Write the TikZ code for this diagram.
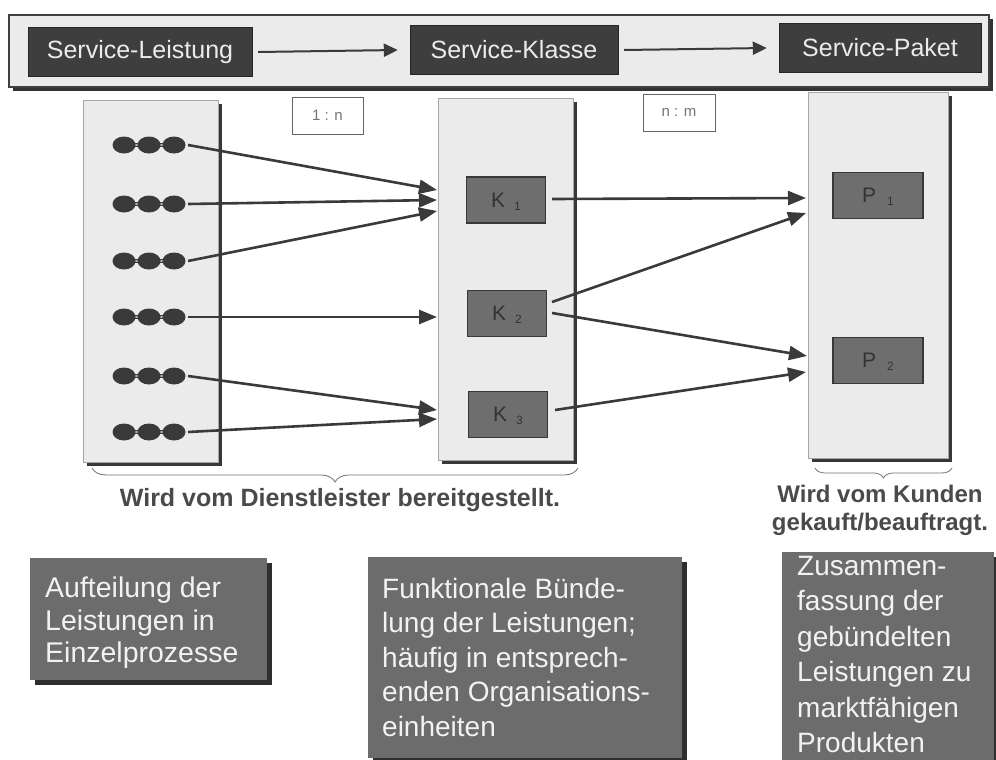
\documentclass[tikz,border=0pt]{standalone}
\usepackage{fontspec}
\setmainfont{Liberation Sans}
\usetikzlibrary{arrows.meta,shadows,decorations.pathreplacing}
\definecolor{dk}{HTML}{3A3A3A}
\definecolor{topfill}{HTML}{3E3E3E}
\definecolor{panelfill}{HTML}{EBEBEB}
\definecolor{descfill}{HTML}{6C6C6C}
\definecolor{kfill}{HTML}{6E6E6E}
\definecolor{captc}{HTML}{4A4A4A}
\newcommand{\subl}[1]{\smash{\raisebox{-3pt}{\fontsize{12}{12}\selectfont #1}}}
\begin{document}
\begin{tikzpicture}[x=1pt,y=-1pt,
  banner/.style={fill=panelfill, draw=black!75, line width=1.6pt,
    drop shadow={shadow xshift=4pt, shadow yshift=-4pt, fill=black!80, opacity=1}},
  topbox/.style={fill=topfill, draw=black!85, text=white!92!black, minimum height=49pt,
    inner sep=0pt, font=\fontsize{25}{28}\selectfont},
  panel/.style={fill=panelfill, draw=black!35, line width=0.8pt, anchor=north west,
    drop shadow={shadow xshift=4pt, shadow yshift=-4pt, fill=black!78, opacity=1}},
  ratio/.style={draw=black!60, fill=white, line width=0.8pt, minimum height=37pt,
    inner sep=0pt, font=\fontsize{15}{15}\selectfont, text=black!55},
  kbox/.style={fill=kfill, draw=black!78, line width=1.4pt, minimum width=79pt,
    minimum height=46pt, inner sep=0pt, font=\fontsize{21}{21}\selectfont, text=black!80},
  dotball/.style={fill=dk},
  dotlink/.style={draw=dk, line width=1.2pt, double=black!30, double distance=1.6pt},
  conn/.style={draw=dk, line width=2.6pt, -{Triangle[length=18pt,width=14pt]}},
  topconn/.style={draw=dk, line width=2pt, -{Triangle[length=14pt,width=13pt]}},
  brc/.style={draw=black!55, line width=0.8pt, decorate},
  capt/.style={text=captc, font=\bfseries\fontsize{24}{28}\selectfont, align=center},
  descbox/.style={fill=descfill, anchor=north west, inner sep=0pt,
    drop shadow={shadow xshift=5pt, shadow yshift=-5pt, fill=black!82, opacity=1}},
  desctext/.style={text=white!95!black, anchor=north west, align=left, inner sep=0pt}
]
\useasboundingbox (0,0) rectangle (996,760);
\fill[white] (0,0) rectangle (996,760);

% top banner
\node[banner, minimum width=980pt, minimum height=72pt, anchor=north west] (bn) at (8,14) {};
\node[topbox, minimum width=224pt] (sl) at (140,52) {Service-Leistung};
\node[topbox, minimum width=208pt] (sk) at (514,50) {Service-Klasse};
\node[topbox, minimum width=202pt] (sp) at (880,48) {Service-Paket};
\draw[topconn] ([xshift=6pt]sl.east) -- ([xshift=-12pt]sk.west);
\draw[topconn] ([xshift=6pt]sk.east) -- ([xshift=-12pt]sp.west);

% panels
\node[panel, minimum width=135pt, minimum height=362pt] (pL) at (83,100) {};
\node[panel, minimum width=135pt, minimum height=362pt] (pM) at (438,98) {};
\node[panel, minimum width=140pt, minimum height=366pt] (pR) at (808,92) {};

% ratio labels
\node[ratio, minimum width=71pt] (r1n) at (327.5,115.5) {1 : n};
\node[ratio, minimum width=72pt] (rnm) at (679,112.5) {n : m};

% K boxes
\node[kbox] (K1) at (506,200) {K\hspace{9pt}\subl{1}};
\node[kbox] (K2) at (507,313.5) {K\hspace{9pt}\subl{2}};
\node[kbox] (K3) at (508,414.5) {K\hspace{9pt}\subl{3}};

% P boxes
\node[kbox, minimum width=90pt] (P1) at (878,195.5) {P\hspace{11pt}\subl{1}};
\node[kbox, minimum width=90pt] (P2) at (878,360.5) {P\hspace{11pt}\subl{2}};

% process rows
\foreach \i/\y in {1/145,2/204,3/261,4/317,5/376,6/432}{
  \draw[dotlink] (124,\y) -- (174,\y);
  \fill[dotball] (124,\y) ellipse (11.5pt and 8.5pt);
  \fill[dotball] (149,\y) ellipse (11.5pt and 8.5pt);
  \fill[dotball] (174,\y) ellipse (11.5pt and 8.5pt);
  \coordinate (row\i) at (188,\y);
}

% arrow targets at middle panel
\coordinate (ta) at (437,190);
\coordinate (tb) at (437,200);
\coordinate (tc) at (437,211);
\coordinate (td) at (437,317);
\coordinate (te) at (437,410);
\coordinate (tf) at (437,419);
\draw[conn] (row1) -- (ta);
\draw[conn] (row2) -- (tb);
\draw[conn] (row3) -- (tc);
\draw[conn] (row4) -- (td);
\draw[conn] (row5) -- (te);
\draw[conn] (row6) -- (tf);

% middle to right
\coordinate (k1o) at (552,199);
\coordinate (k2a) at (552,302);
\coordinate (k2b) at (552,313);
\coordinate (k3o) at (555,410);
\coordinate (pa) at (806,198);
\coordinate (pb) at (806,213);
\coordinate (pc) at (807,356);
\coordinate (pd) at (806,372);
\draw[conn] (k1o) -- (pa);
\draw[conn] (k2a) -- (pb);
\draw[conn] (k2b) -- (pc);
\draw[conn] (k3o) -- (pd);

% braces
\draw[brc, decoration={brace, mirror, amplitude=14pt}] (92,468) -- (578,468);
\draw[brc, decoration={brace, mirror, amplitude=10pt}] (815,468) -- (952,468);

\node[capt, font=\bfseries\fontsize{25}{28}\selectfont] (c1) at (340,500) {Wird vom Dienstleister bereitgestellt.};
\node[capt] (c2) at (880,510) {Wird vom Kunden\\gekauft/beauftragt.};

% description boxes
\node[descbox, minimum width=237pt, minimum height=122pt] (d1) at (30,558) {};
\node[desctext, font=\fontsize{28.5}{32.5}\selectfont] (d1t) at (45,577)
  {Aufteilung der\\Leistungen in\\Einzelprozesse};
\node[descbox, minimum width=314pt, minimum height=201pt] (d2) at (368,557) {};
\node[desctext, font=\fontsize{28}{34.5}\selectfont] (d2t) at (382,578)
  {Funktionale Bünde-\\lung der Leistungen;\\häufig in entsprech-\\enden Organisations-\\einheiten};
\node[descbox, minimum width=212pt, minimum height=215pt] (d3) at (782,552) {};
\node[desctext, font=\fontsize{28}{35.5}\selectfont] (d3t) at (797,556)
  {Zusammen-\\fassung der\\gebündelten\\Leistungen zu\\marktfähigen\\Produkten};
\end{tikzpicture}
\end{document}
